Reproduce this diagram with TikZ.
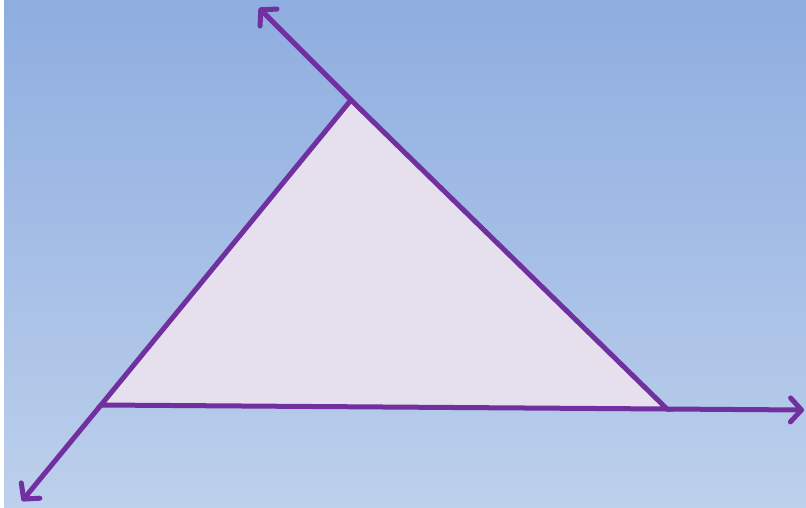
\documentclass[tikz,border=0pt]{standalone}
\usetikzlibrary{arrows.meta}
\definecolor{bgtop}{HTML}{8EADE0}
\definecolor{bgbot}{HTML}{BDD0EC}
\definecolor{linec}{HTML}{7030A0}
\definecolor{trifill}{HTML}{E6E0EE}
\tikzset{
  edge/.style={draw=linec, line width=5pt, line join=miter},
  ray/.style={draw=linec, line width=5pt, line cap=round, -{Straight Barb[length=11pt,width=24pt,round]}},
}
\begin{document}
\begin{tikzpicture}[x=1pt,y=-1pt]
\useasboundingbox (0,0) rectangle (806,507);
\fill[white] (0,0) rectangle (806,507);
\shade[top color=bgtop, bottom color=bgbot] (4,0) rectangle (806,507);
\coordinate (A) at (351,100);
\coordinate (B) at (101,405);
\coordinate (C) at (667,409);
\coordinate (Ae) at (259,8);
\coordinate (Be) at (22,501);
\coordinate (Ce) at (804,410);
\fill[trifill] (A) -- (B) -- (C) -- cycle;
\draw[ray] (A) -- (Ae);
\draw[ray] (B) -- (Be);
\draw[ray] (C) -- (Ce);
\draw[edge] (A) -- (B) -- (C) -- cycle;
\end{tikzpicture}
\end{document}
